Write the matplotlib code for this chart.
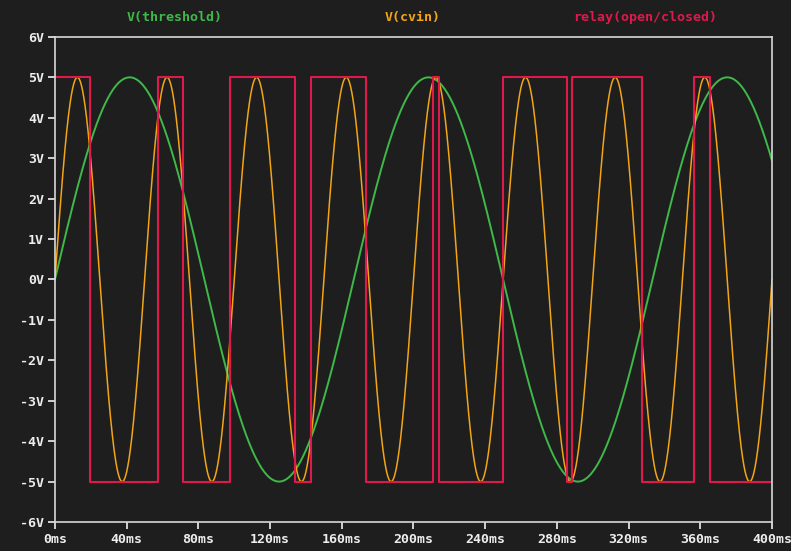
"""Transient plot of the comparator relay test: two sine sources and the relay state."""
import numpy as np
import matplotlib
matplotlib.use("Agg")
import matplotlib.pyplot as plt

# source settings (amplitude in V, frequency in Hz)
THRESHOLD_AMP = 5.0
THRESHOLD_FREQ = 6.0
CVIN_AMP = 5.0
CVIN_FREQ = 20.0

# relay switching instants in ms, relay starts closed (+5V)
relay_edges_ms = [19.5, 57.6, 71.6, 97.5, 133.9, 142.8, 173.5, 210.7,
                  214.4, 249.8, 285.5, 288.6, 327.3, 356.7, 365.4]
relay_levels = [5, -5]

x_ticks_ms = [0, 40, 80, 120, 160, 200, 240, 280, 320, 360, 400]
y_ticks_v = [6, 5, 4, 3, 2, 1, 0, -1, -2, -3, -4, -5, -6]

BG = "#1e1e1e"
FG = "#eeeeee"
GREEN = "#3fb94a"
ORANGE = "#f2a516"
RED = "#e0194d"

plt.rcParams["font.family"] = ["DejaVu Sans Mono"]

t_ms = np.linspace(0, 400, 8001)
threshold = THRESHOLD_AMP * np.sin(2 * np.pi * THRESHOLD_FREQ * t_ms / 1000)
cvin = CVIN_AMP * np.sin(2 * np.pi * CVIN_FREQ * t_ms / 1000)

# relay as a step trace built from the edge list
relay_t = [0.0]
relay_v = [relay_levels[0]]
state = 0
for edge in relay_edges_ms:
    relay_t += [edge, edge]
    relay_v += [relay_levels[state], relay_levels[1 - state]]
    state = 1 - state
relay_t.append(400.0)
relay_v.append(relay_levels[state])

fig = plt.figure(figsize=(7.91, 5.51), dpi=100, facecolor=BG)
ax = fig.add_axes([0.0695, 0.0526, 0.9065, 0.8804])
ax.set_facecolor(BG)

ax.plot(t_ms, threshold, color=GREEN, lw=1.4)
ax.plot(t_ms, cvin, color=ORANGE, lw=1.1)
ax.plot(relay_t, relay_v, color=RED, lw=1.5)

ax.set_xlim(0, 400)
ax.set_ylim(-6, 6)
ax.set_xticks(x_ticks_ms)
ax.set_xticklabels([f"{v}ms" for v in x_ticks_ms])
ax.set_yticks(y_ticks_v)
ax.set_yticklabels([f"{v}V" for v in y_ticks_v])

for side in ax.spines.values():
    side.set_color("#d8d8d8")
    side.set_linewidth(1.2)
ax.tick_params(colors=FG, labelcolor=FG, labelsize=9.5, length=5, width=1.2,
               direction="out", pad=3)
for lab in ax.get_xticklabels() + ax.get_yticklabels():
    lab.set_fontweight("bold")

# trace names above the plot
fig.text(175 / 791, 1 - 17 / 551, "V(threshold)", color=GREEN, fontsize=9.5,
         fontweight="bold", ha="center", va="center")
fig.text(413 / 791, 1 - 17 / 551, "V(cvin)", color=ORANGE, fontsize=9.5,
         fontweight="bold", ha="center", va="center")
fig.text(645 / 791, 1 - 17 / 551, "relay(open/closed)", color=RED, fontsize=9.5,
         fontweight="bold", ha="center", va="center")

fig.savefig("out.png", dpi=100, facecolor=BG)
